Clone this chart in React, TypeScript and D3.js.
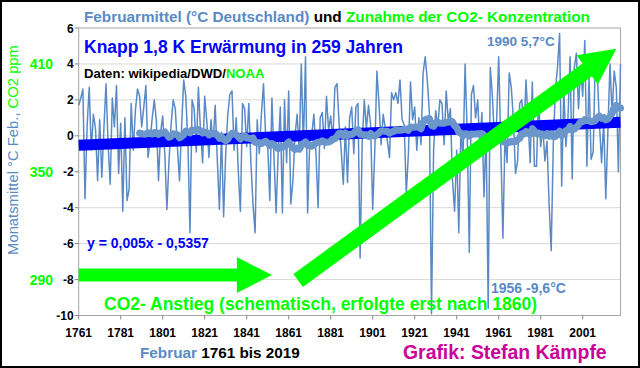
import React from "react";
import * as d3 from "d3";

// ---------- data ----------
const START_YEAR = 1761;
const END_YEAR = 2019;
// February mean temperature Germany (°C), 1761..2019
const FEB_TEMPS: number[] = [
  1.7, 2.1, 2.6, -3.5, 0.5, 2.7, -0.8, 1.2, 0.4, -2.5, // 1761-1770
  0.9, -2.3, 0.4, 2.9, -0.5, -2.7, 2.1, 0.5, 2.8, -2.1, // 1771-1780
  0.7, -4.2, 1.0, -3.6, -3.0, 1.8, -0.8, 1.4, 2.6, 2.2, // 1781-1790
  0.5, 1.6, 2.8, -1.2, -0.3, 1.0, 2.0, 0.8, -2.5, 0.2, // 1791-1800
  1.1, -1.0, -4.1, -1.4, 0.6, 2.0, 1.5, -0.6, -2.5, 0.5, // 1801-1810
  3.1, 2.2, -0.4, -5.4, 2.0, 1.5, -0.9, 2.7, 0.3, -1.5, // 1811-1820
  2.2, 0.8, -1.2, 0.9, -0.5, 1.7, -1.3, -4.1, 0.2, -4.5, // 1821-1830
  -1.0, 1.2, 2.3, 2.5, -0.8, 1.0, -2.0, -4.2, 1.8, 1.5, // 1831-1840
  -0.6, 1.8, -1.5, -3.8, -5.4, 0.9, -1.0, 1.2, 2.9, 0.0, // 1841-1850
  -0.5, -3.6, 2.1, -1.2, -4.3, -0.9, 1.6, -4.3, 2.0, -1.5, // 1851-1860
  2.5, -3.8, -2.5, 0.0, 1.2, -0.8, 4.0, -0.6, 4.4, -4.3, // 1861-1870
  -0.4, 0.1, 1.2, -1.0, -4.0, 1.0, 1.3, -0.7, 2.2, 0.3, // 1871-1880
  1.1, -0.3, 2.7, 2.9, 0.7, -0.8, -2.7, 0.5, -2.6, 1.0, // 1881-1890
  1.6, -1.0, 1.6, 1.8, -6.8, -0.4, 2.0, 0.4, 1.7, 0.6, // 1891-1900
  -4.1, -0.8, 3.6, 1.8, -0.5, 1.2, 0.4, -0.3, -1.2, 2.4, // 1901-1910
  2.0, 2.4, 1.8, 3.1, 0.9, 0.6, -3.2, -1.0, 3.0, 0.9, // 1911-1920
  1.6, -0.8, 1.0, -0.5, 3.5, 4.4, 3.1, 1.3, -9.9, -0.8, // 1921-1930
  1.4, 0.5, 2.0, 1.8, -0.5, 2.5, 0.8, 1.5, -2.5, -4.2, // 1931-1940
  -0.8, -5.4, 0.5, -1.4, 4.0, 0.2, -6.5, 2.3, 2.8, 1.0, // 1941-1950
  2.0, -0.6, 1.3, -3.4, 0.3, -9.6, 3.8, 2.2, -0.3, 0.8, // 1951-1960
  4.4, -0.6, -5.7, 0.0, -1.5, 3.5, 2.7, 0.9, -2.1, -1.4, // 1961-1970
  1.8, 2.0, 0.0, 3.1, 0.8, -1.5, 3.0, -1.7, -1.7, 2.1, // 1971-1980
  -0.6, 0.5, -1.4, -0.3, -3.8, -6.4, -0.5, 2.6, 3.8, 5.7, // 1981-1990
  -2.8, 2.6, -0.6, 1.0, 4.4, -2.4, 3.8, 4.6, 1.5, 3.8, // 1991-2000
  2.2, 5.3, -1.7, 3.3, -1.3, -0.9, 4.3, 3.3, 0.6, -1.5, // 2001-2010
  0.8, -3.5, 0.3, 4.0, 1.2, 3.6, 2.7, -2.0, 4.0, // 2011-2019
];
const MA_PERIOD = 30;
const TREND_SLOPE = 0.005;
const TREND_INTERCEPT = -0.5357;
const Y_TICKS = [6, 4, 2, 0, -2, -4, -6, -8, -10];
const X_TICK_YEARS = [1761, 1781, 1801, 1821, 1841, 1861, 1881, 1901, 1921, 1941, 1961, 1981, 2001];
const CO2_TICK_POS = [4, -2, -8];
const CO2_TICK_LABELS = ["410", "350", "290"];
// schematic CO2 arrows in (year, °C) units
const CO2_FLAT_ARROW = [[1761, -7.75], [1853, -7.75]];
const CO2_RISE_ARROW = [[1865.5, -8.05], [2017, 4.85]];

const STEEL = "#5a8ac6";
const GREEN = "#00ff00";
const FONT = "'Liberation Sans', Arial, sans-serif";

function arrowPoints(
  x0: number, y0: number, x1: number, y1: number,
  shaftHalf: number, headHalf: number, headLen: number
) {
  const dx = x1 - x0, dy = y1 - y0;
  const len = Math.hypot(dx, dy);
  const ux = dx / len, uy = dy / len;
  const nx = -uy, ny = ux;
  const bx = x1 - ux * headLen, by = y1 - uy * headLen;
  const pts = [
    [x0 + nx * shaftHalf, y0 + ny * shaftHalf],
    [bx + nx * shaftHalf, by + ny * shaftHalf],
    [bx + nx * headHalf, by + ny * headHalf],
    [x1, y1],
    [bx - nx * headHalf, by - ny * headHalf],
    [bx - nx * shaftHalf, by - ny * shaftHalf],
    [x0 - nx * shaftHalf, y0 - ny * shaftHalf],
  ];
  return pts.map((p) => p.join(",")).join(" ");
}

export default function App() {
  const W = 640, H = 368;
  const left = 78.7, right = 620.5, top = 28, bottom = 315.5;
  const x = d3.scaleLinear().domain([START_YEAR, END_YEAR]).range([left, right]);
  const y = d3.scaleLinear().domain([-10, 6]).range([bottom, top]);

  const pts = FEB_TEMPS.map((v, i) => [START_YEAR + i, v] as [number, number]);
  const ma: [number, number][] = [];
  for (let i = MA_PERIOD - 1; i < FEB_TEMPS.length; i++) {
    const m = d3.mean(FEB_TEMPS.slice(i - MA_PERIOD + 1, i + 1)) as number;
    ma.push([START_YEAR + i, m]);
  }
  const line = d3.line<[number, number]>().x((d) => x(d[0])).y((d) => y(d[1]));
  const trend: [number, number][] = [
    [START_YEAR, TREND_SLOPE * 1 + TREND_INTERCEPT],
    [END_YEAR, TREND_SLOPE * FEB_TEMPS.length + TREND_INTERCEPT],
  ];

  const fa = CO2_FLAT_ARROW.map(([a, b]) => [x(a), y(b)]);
  const ra = CO2_RISE_ARROW.map(([a, b]) => [x(a), y(b)]);

  return (
    <div style={{ position: "fixed", left: 0, top: 0 }}>
      <svg width={W} height={H} style={{ display: "block", background: "#fff" }} fontFamily={FONT}>
        <rect x={1} y={1} width={W - 2} height={H - 2} fill="#fff" stroke="#000" strokeWidth={2} />
        {/* grid */}
        {Y_TICKS.filter((t) => t !== 6 && t !== -10).map((t) => (
          <line key={t} x1={left} x2={right} y1={y(t)} y2={y(t)} stroke="#d9d9d9" strokeWidth={1} />
        ))}
        <rect x={left} y={top} width={right - left} height={bottom - top} fill="none" stroke="#a6a6a6" strokeWidth={1} />
        {/* y ticks */}
        {Y_TICKS.map((t) => (
          <g key={t}>
            <line x1={left - 4} x2={left} y1={y(t)} y2={y(t)} stroke="#868686" />
            <text x={left - 5} y={y(t) + 4.5} textAnchor="end" fontSize={12} fontWeight="bold" fill="#000">
              {t}
            </text>
          </g>
        ))}
        {CO2_TICK_POS.map((t, i) => (
          <text key={t} x={53} y={y(t) + 5} textAnchor="end" fontSize={14} fontWeight="bold" fill={GREEN}>
            {CO2_TICK_LABELS[i]}
          </text>
        ))}
        {/* x ticks */}
        {X_TICK_YEARS.map((yr) => (
          <g key={yr}>
            <line x1={x(yr)} x2={x(yr)} y1={bottom} y2={bottom + 4} stroke="#868686" />
            <text x={x(yr)} y={337} textAnchor="middle" fontSize={12} fontWeight="bold" fill="#000">
              {yr}
            </text>
          </g>
        ))}
        {/* data */}
        <path d={line(pts) as string} fill="none" stroke={STEEL} strokeWidth={1.5} strokeLinejoin="round" />
        <path d={line(trend) as string} fill="none" stroke="#0000ff" strokeWidth={11} />
        <path d={line(ma) as string} fill="none" stroke="#6a96cb" strokeWidth={7} strokeLinejoin="round" strokeLinecap="round" />
        {/* CO2 arrows */}
        <polygon points={arrowPoints(fa[0][0], fa[0][1], fa[1][0], fa[1][1], 6.5, 18, 35)} fill={GREEN} />
        <polygon points={arrowPoints(ra[0][0], ra[0][1], ra[1][0], ra[1][1], 8, 18, 36)} fill={GREEN} />
        {/* texts */}
        <text x={84} y={22} fontSize={15.3} fontWeight="bold">
          <tspan fill={STEEL}>Februarmittel (°C Deutschland)</tspan>
          <tspan fill="#000"> und </tspan>
          <tspan fill={GREEN}>Zunahme der CO2- Konzentration</tspan>
        </text>
        <text x={84} y={53} fontSize={17.5} fontWeight="bold" fill="#0000ff">
          Knapp 1,8 K Erwärmung in 259 Jahren
        </text>
        <text x={84} y={78} fontSize={13.1} fontWeight="bold">
          <tspan fill="#000">Daten: wikipedia/DWD/</tspan>
          <tspan fill={GREEN}>NOAA</tspan>
        </text>
        <text x={487} y={46} fontSize={13.5} fontWeight="bold" fill={STEEL}>1990 5,7°C</text>
        <text x={491} y={293} fontSize={14} fontWeight="bold" fill={STEEL}>1956 -9,6°C</text>
        <text x={87} y={248} fontSize={14} fontWeight="bold" fill="#0000ff">y = 0,005x - 0,5357</text>
        <text x={104} y={310} fontSize={17.5} fontWeight="bold" fill={GREEN}>
          CO2- Anstieg (schematisch, erfolgte erst nach 1860)
        </text>
        <text x={140} y={358} fontSize={15.3} fontWeight="bold">
          <tspan fill={STEEL}>Februar</tspan>
          <tspan fill="#000"> 1761 bis 2019</tspan>
        </text>
        <text x={403} y={359} fontSize={19.4} fontWeight="bold" fill="#cc0099">Grafik: Stefan Kämpfe</text>
        <text transform="translate(18,150) rotate(-90)" textAnchor="middle" fontSize={14.8}>
          <tspan fill={STEEL}>Monatsmittel °C Feb.,</tspan>
          <tspan fill={GREEN}> CO2 ppm</tspan>
        </text>
      </svg>
    </div>
  );
}
